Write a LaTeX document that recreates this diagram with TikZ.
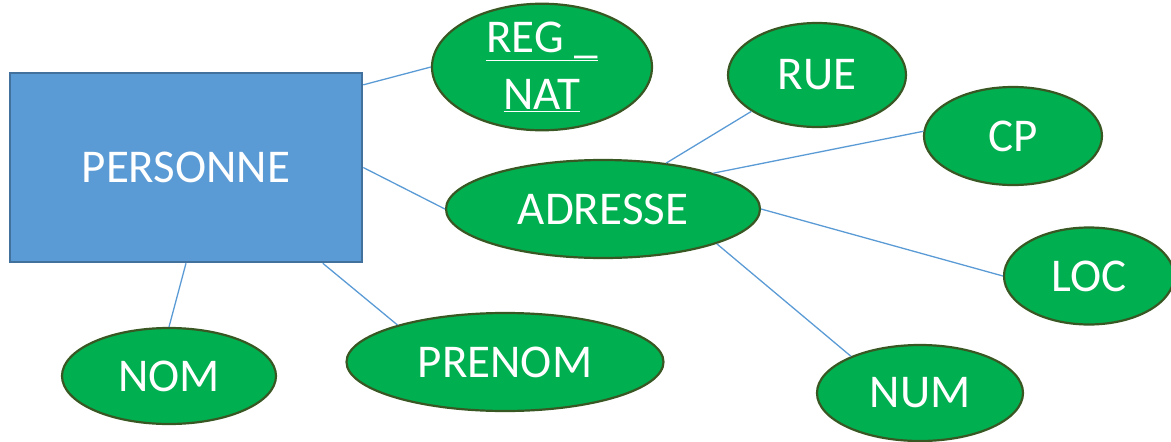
\documentclass[tikz,border=0pt]{standalone}
\usepackage{fontspec}
\setmainfont{Carlito}
\usetikzlibrary{shapes.geometric}
\definecolor{colorEntity}{RGB}{91,155,213}
\definecolor{colorEntityLine}{RGB}{65,113,156}
\definecolor{colorAttr}{RGB}{0,176,80}
\definecolor{colorAttrLine}{RGB}{56,87,35}

\begin{document}
\begin{tikzpicture}[
    x=1pt, y=-1pt,
    entity/.style={rectangle, fill=colorEntity, draw=colorEntityLine, line width=2.5pt,
                   minimum width=352pt, minimum height=189pt, inner sep=0pt,
                   text=white, font=\fontsize{47}{57}\selectfont},
    attr/.style={ellipse, fill=colorAttr, draw=colorAttrLine, line width=2.2pt,
                 inner sep=0pt, text=white, align=center, font=\fontsize{47}{57}\selectfont},
    link/.style={draw=colorEntity, line width=1.3pt}
]
\useasboundingbox (0,0) rectangle (1171,442);

% Entity
\node[entity] (pers) at (186,167.5) {PERSONNE};

% Attributes of the entity
\node[attr, minimum width=220pt, minimum height=124pt] (reg) at (542,67) {\underline{REG \_}\\\underline{NAT}};
\node[attr, minimum width=314pt, minimum height=98pt] (adr) at (603,209) {ADRESSE};
\node[attr, minimum width=214pt, minimum height=96pt] (nom) at (169,376) {NOM};
\node[attr, minimum width=317pt, minimum height=98pt] (prenom) at (505,362) {PRENOM};

% Attributes of the address
\node[attr, minimum width=178pt, minimum height=104pt] (rue) at (817,75) {RUE};
\node[attr, minimum width=178pt, minimum height=98pt] (cp) at (1013,136) {CP};
\node[attr, minimum width=170pt, minimum height=97pt] (loc) at (1089,276) {LOC};
\node[attr, minimum width=206pt, minimum height=96pt] (num) at (920,393) {NUM};

% Links
\draw[link] (pers.25) -- (reg.180);
\draw[link] (pers.east) -- (adr.180);
\draw[link] (pers.south) -- (nom.north);
\draw[link] (pers.325) -- (prenom.161);
\draw[link] (adr.36) -- (rue.209);
\draw[link] (adr.18) -- (cp.177);
\draw[link] (adr.east) -- (loc.180);
\draw[link] (adr.343) -- (num.152);

\end{tikzpicture}
\end{document}
